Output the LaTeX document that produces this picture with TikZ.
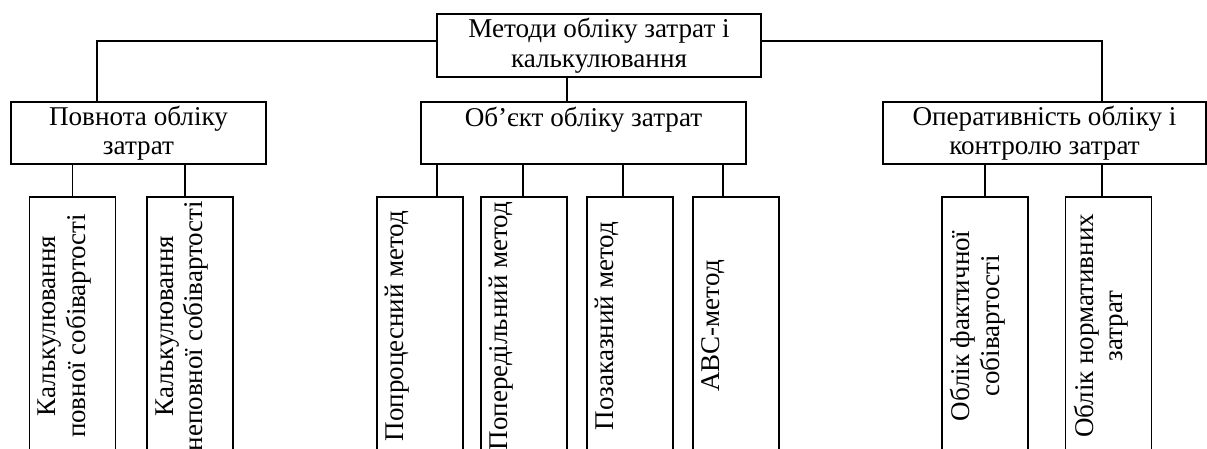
\documentclass[tikz,border=0pt]{standalone}
\usepackage{fontspec}
\setmainfont{Liberation Serif}
\usetikzlibrary{positioning,calc}
\tikzset{block/.style={draw=black,line width=1.2pt,align=center,minimum height=1.55cm,inner sep=0pt,font=\fontsize{19.3}{21}\selectfont},vblock/.style={draw=black,line width=1.2pt,minimum width=2.15cm,minimum height=6.45cm,inner sep=0pt},vtext/.style={rotate=90,anchor=north,align=center,inner sep=0pt,font=\fontsize{19.2}{21}\selectfont},edge/.style={line width=1.2pt,draw=black}}
\begin{document}
\begin{tikzpicture}
\useasboundingbox (-14.975,1.1375) rectangle (15.2,-10.0625);
\clip (-14.975,1.1375) rectangle (15.2,-10.0625);
\node[block,minimum width=8.1cm,minimum height=1.575cm] (meth) at (0,0) {Методи обліку затрат і\\калькулювання};
\node[block,minimum width=6.375cm] (povn) at (-11.5125,-2.1875) {Повнота обліку\\затрат};
\node[block,minimum width=8.125cm] (obj) at (-0.3875,-2.1875) {Об’єкт обліку затрат\\[2pt]\mbox{}};
\node[block,minimum width=8.075cm] (oper) at (11.1375,-2.1875) {Оперативність обліку і\\контролю затрат};
\node[vblock] (kpovn) at (-13.1625,-7.0125) {};
\node[vblock] (kneps) at (-10.225,-7.0125) {};
\node[vblock] (mproc) at (-4.475,-7.0125) {};
\node[vblock] (mpered) at (-1.875,-7.0125) {};
\node[vblock] (mzak) at (0.775,-7.0125) {};
\node[vblock] (mabc) at (3.425,-7.0125) {};
\node[vblock] (ofakt) at (9.65,-7.0125) {};
\node[vblock] (onorm) at (12.7375,-7.0125) {};
\node[vtext] (kpovn-t) at ([xshift=0.225cm]kpovn.west) {Калькулювання\\повної собівартості};
\node[vtext] (kneps-t) at ([xshift=0.225cm]kneps.west) {Калькулювання\\неповної собівартості};
\node[vtext] (mproc-t) at ([xshift=0.225cm]mproc.west) {Попроцесний метод};
\node[vtext] (mpered-t) at ([xshift=0.225cm]mpered.west) {Попередільний метод};
\node[vtext] (mzak-t) at ([xshift=0.225cm]mzak.west) {Позаказний метод};
\node[vtext] (mabc-t) at ([xshift=0.225cm]mabc.west) {ABC-метод};
\node[vtext] (ofakt-t) at ([xshift=0.225cm]ofakt.west) {Облік фактичної\\собівартості};
\node[vtext] (onorm-t) at ([xshift=0.225cm]onorm.west) {Облік нормативних\\затрат};
\draw[edge] ([yshift=0.1125cm]meth.west) -| ([xshift=-1.0375cm]povn.north);
\draw[edge] ([yshift=0.1125cm]meth.east) -| ([xshift=1.4375cm]oper.north);
\draw[edge] ([xshift=-0.8cm]meth.south) -- ([xshift=-0.4125cm]obj.north);
\draw[edge] (kpovn.north) -- (kpovn.north |- povn.south);
\draw[edge] ([xshift=-0.125cm]kneps.north) -- ([xshift=-0.125cm]kneps.north |- povn.south);
\draw[edge] ([xshift=0.425cm]mproc.north) -- ([xshift=0.425cm]mproc.north |- obj.south);
\draw[edge] ([xshift=-0.025cm]mpered.north) -- ([xshift=-0.025cm]mpered.north |- obj.south);
\draw[edge] ([xshift=-0.175cm]mzak.north) -- ([xshift=-0.175cm]mzak.north |- obj.south);
\draw[edge] ([xshift=-0.325cm]mabc.north) -- ([xshift=-0.325cm]mabc.north |- obj.south);
\draw[edge] (ofakt.north) -- (ofakt.north |- oper.south);
\draw[edge] ([xshift=-0.1625cm]onorm.north) -- ([xshift=-0.1625cm]onorm.north |- oper.south);
\end{tikzpicture}
\end{document}
